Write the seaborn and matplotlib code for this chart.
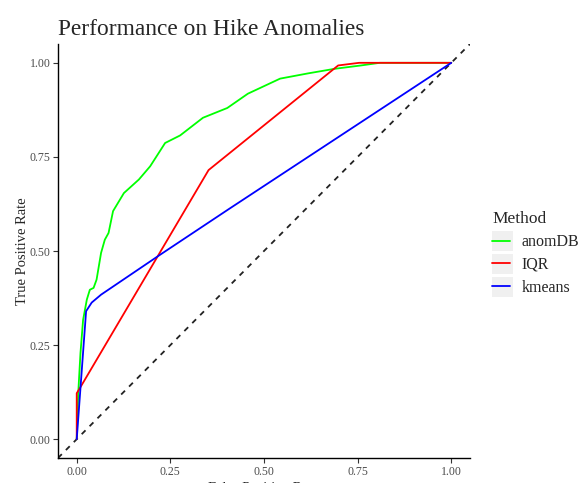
import numpy as np
import pandas as pd
import matplotlib
matplotlib.use("Agg")
import matplotlib.pyplot as plt
from matplotlib.patches import Rectangle
import seaborn as sns

# ROC curves per method
anomdb_fpr = [0.0, 0.004, 0.010, 0.017, 0.027, 0.035, 0.045, 0.053, 0.065, 0.075, 0.085,
              0.097, 0.126, 0.166, 0.196, 0.236, 0.276, 0.337, 0.402, 0.457, 0.543,
              0.618, 0.688, 0.759, 0.809, 1.0]
anomdb_tpr = [0.0, 0.122, 0.229, 0.317, 0.371, 0.397, 0.402, 0.424, 0.495, 0.530, 0.548,
              0.606, 0.654, 0.690, 0.725, 0.787, 0.807, 0.854, 0.880, 0.918, 0.958,
              0.972, 0.984, 0.993, 1.0, 1.0]

iqr_fpr = [0.0, 0.0, 0.008, 0.352, 0.698, 0.754, 1.0]
iqr_tpr = [0.0, 0.122, 0.135, 0.715, 0.993, 1.0, 1.0]

kmeans_fpr = [0.0, 0.025, 0.040, 0.065, 0.221, 0.407, 1.0]
kmeans_tpr = [0.0, 0.340, 0.363, 0.384, 0.489, 0.612, 1.0]

methods = ["anomDB", "IQR", "kmeans"]
colors = ["#00FF00", "#FF0000", "#0000FF"]

df = pd.concat([
    pd.DataFrame({"fpr": anomdb_fpr, "tpr": anomdb_tpr, "Method": "anomDB"}),
    pd.DataFrame({"fpr": iqr_fpr, "tpr": iqr_tpr, "Method": "IQR"}),
    pd.DataFrame({"fpr": kmeans_fpr, "tpr": kmeans_tpr, "Method": "kmeans"}),
], ignore_index=True)

sns.set_style("ticks")
plt.rcParams["font.family"] = ["Liberation Serif", "DejaVu Serif"]

W, H = 588, 483
fig = plt.figure(figsize=(W / 100, H / 100), dpi=100)
ax = fig.add_axes([58 / W, 1 - 458 / H, (470 - 58) / W, (458 - 44) / H])

sns.lineplot(data=df, x="fpr", y="tpr", hue="Method", hue_order=methods,
             palette=colors, estimator=None, sort=False, linewidth=1.3, ax=ax)

ax.axline((0, 0), slope=1, color="#222222", linewidth=1.3, dashes=(3, 3.2), zorder=1)

ax.set_xlim(-0.05, 1.05)
ax.set_ylim(-0.05, 1.05)
ticks = [0.0, 0.25, 0.5, 0.75, 1.0]
ax.set_xticks(ticks)
ax.set_yticks(ticks)
ax.set_xticklabels(["0.00", "0.25", "0.50", "0.75", "1.00"])
ax.set_yticklabels(["0.00", "0.25", "0.50", "0.75", "1.00"])
ax.tick_params(axis="both", colors="#333333", labelcolor="#4D4D4D", labelsize=8.6,
               length=3.5, width=0.8, pad=2)
for s in ["top", "right"]:
    ax.spines[s].set_visible(False)
for s in ["left", "bottom"]:
    ax.spines[s].set_color("black")
    ax.spines[s].set_linewidth(1.0)

ax.set_ylabel("True Positive Rate", fontsize=10.5, labelpad=0)
ax.set_xlabel("False Positive Rate", fontsize=10.5, labelpad=3)

fig.text(58 / W, 1 - 35 / H, "Performance on Hike Anomalies", fontsize=16.8,
         ha="left", va="baseline")

ax.get_legend().remove()
handles, labels = ax.get_legend_handles_labels()

# grey key backgrounds behind the legend handles
for cy in [241, 264, 287]:
    fig.patches.append(Rectangle((492 / W, 1 - (cy + 10) / H), 21 / W, 20 / H,
                                 transform=fig.transFigure, facecolor="#F0F0F0",
                                 edgecolor="none", zorder=0))

leg = fig.legend(handles, labels, title="Method", loc="upper left",
                 bbox_to_anchor=(486 / W, 1 - 205 / H), frameon=False,
                 fontsize=11.5, title_fontsize=12.5, handlelength=1.1,
                 handletextpad=0.75, labelspacing=0.42, alignment="left",
                 borderaxespad=0)
for ln in leg.get_lines():
    ln.set_linewidth(1.3)

fig.savefig("out.png", dpi=100)
